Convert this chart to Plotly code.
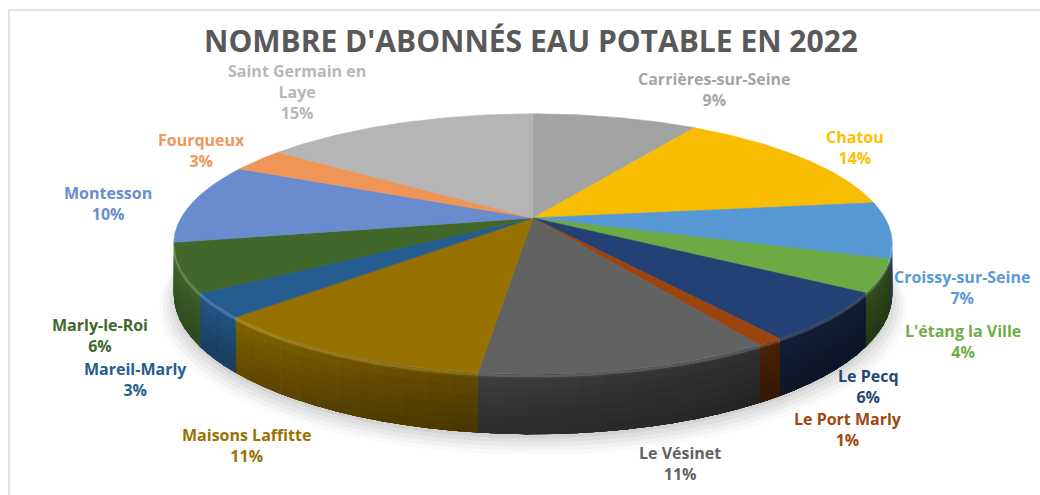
import math
import numpy as np
import plotly.graph_objects as go

# ---------------- data ----------------
communes = ["Carrières-sur-Seine", "Chatou", "Croissy-sur-Seine", "L'étang la Ville",
            "Le Pecq", "Le Port Marly", "Le Vésinet", "Maisons Laffitte", "Mareil-Marly",
            "Marly-le-Roi", "Montesson", "Fourqueux", "Saint Germain en Laye"]
label_names = ["Carrières-sur-Seine", "Chatou", "Croissy-sur-Seine", "L'étang la Ville",
               "Le Pecq", "Le Port Marly", "Le Vésinet", "Maisons Laffitte", "Mareil-Marly",
               "Marly-le-Roi", "Montesson", "Fourqueux", "Saint Germain en<br>Laye"]
abonnes_pct = [9, 14, 7, 4, 6, 1, 11, 11, 3, 6, 10, 3, 15]

# ---------------- style ----------------
slice_colors = ["#A3A3A3", "#F8BC00", "#5698D3", "#6CAA44", "#244175", "#9B450D", "#626262",
                "#977200", "#255D90", "#42672A", "#698CCF", "#EF9558", "#B5B5B5"]
label_colors = ["#A5A5A5", "#FFC000", "#5B9BD5", "#70AD47", "#264478", "#9E480E", "#636363",
                "#997300", "#255E91", "#43682B", "#698ED0", "#F1975A", "#B7B7B7"]
# label anchor positions (layout, pixels)
label_xy = [(714, 89), (855, 147), (962, 287), (963, 341), (868, 386), (848, 429),
            (680, 463), (246, 445), (135, 379), (100, 335), (108, 203), (201, 150), (297, 92)]

W, H = 1040, 495
CX, CY = 533, 218        # apex of the pie
A, B = 352, 125          # semi axes
K = 0.2                  # perspective strength
D = 48                   # thickness
FONT = "Open Sans"

def proj(theta_deg, depth=0.0):
    t = np.radians(theta_deg)
    X = np.sin(t)
    Y = -np.cos(t)
    f = 1.0 / (1.0 - K * Y)
    return CX + A * X * f, CY + B * Y * f + depth * f

def hex2rgb(h):
    h = h.lstrip("#")
    return tuple(int(h[i:i + 2], 16) for i in (0, 2, 4))

def shade(h, k):
    r, g, b = hex2rgb(h)
    return "rgb(%d,%d,%d)" % tuple(max(0, min(255, round(c * k))) for c in (r, g, b))

TH1 = math.degrees(math.acos(-K))       # visible side range
TH2 = 360 - TH1
shade_pts = [TH1, 140, 180, 200, 235, TH2]
shade_val = [0.40, 0.42, 0.55, 0.65, 0.85, 0.93]

fig = go.Figure()

# ---------------- soft shadow ----------------
th_all = np.linspace(0, 360, 361)
for (s, dy, op) in [(1.04, 12, 0.02), (1.03, 10, 0.03), (1.02, 8, 0.035), (1.01, 6, 0.04), (1.0, 4, 0.05)]:
    xs, ys = proj(th_all, D)
    xs = CX + (xs - CX) * s
    ys = CY + (ys - CY) * s + dy
    fig.add_trace(go.Scatter(x=xs, y=ys, mode="lines", fill="toself",
                             fillcolor="rgba(0,0,0,%.3f)" % op, line=dict(width=0),
                             hoverinfo="skip", showlegend=False))

total = sum(abonnes_pct)
starts = []
acc = 0.0
for v in abonnes_pct:
    starts.append(acc / total * 360)
    acc += v
ends = [starts[i + 1] if i + 1 < len(starts) else 360.0 for i in range(len(starts))]

# ---------------- sides (layered gradient) ----------------
band_edges = [0.0, 0.08, 0.22, 0.38, 0.54, 0.70, 0.85]
band_k = [1.2, 1.06, 1.0, 0.95, 0.9, 0.86, 0.82]
for i in range(len(abonnes_pct)):
    a0, a1 = max(starts[i], TH1), min(ends[i], TH2)
    if a1 <= a0:
        continue
    n = max(1, int(math.ceil((a1 - a0) / 3.5)))
    edges = np.linspace(a0, a1, n + 1)
    for j in range(n):
        s0, s1 = edges[j], min(a1, edges[j + 1] + 0.5)
        mid = 0.5 * (edges[j] + edges[j + 1])
        kf = float(np.interp(mid, shade_pts, shade_val))
        arc = np.linspace(s0, s1, 6)
        for b in range(len(band_k)):
            # each layer spans from its top down to the bottom; later layers cover lower parts
            xt, yt = proj(arc, D * band_edges[b])
            xb, yb = proj(arc[::-1], D)
            col = shade(slice_colors[i], kf * band_k[b])
            fig.add_trace(go.Scatter(x=np.concatenate([xt, xb]), y=np.concatenate([yt, yb]),
                                     mode="lines", fill="toself", fillcolor=col,
                                     line=dict(width=0),
                                     hoverinfo="skip", showlegend=False))

# ---------------- top faces ----------------
for i, name in enumerate(communes):
    arc = np.linspace(starts[i], ends[i], max(4, int((ends[i] - starts[i]) * 2)))
    xa, ya = proj(arc)
    xs = np.concatenate([[CX], xa, [CX]])
    ys = np.concatenate([[CY], ya, [CY]])
    pct = round(abonnes_pct[i] / total * 100)
    fig.add_trace(go.Scatter(x=xs, y=ys, mode="lines", fill="toself",
                             fillcolor=slice_colors[i],
                             line=dict(color=slice_colors[i], width=0.6),
                             name=name, hoverinfo="text",
                             text="%s : %d%%" % (name, pct), showlegend=False))

# rim highlight
arc = np.linspace(TH1, TH2, 200)
xr, yr = proj(arc, 1.5)
fig.add_trace(go.Scatter(x=xr, y=yr, mode="lines", line=dict(color="rgba(255,255,255,0.16)", width=2.5),
                         hoverinfo="skip", showlegend=False))

# ---------------- labels ----------------
for i, name in enumerate(label_names):
    pct = round(abonnes_pct[i] / total * 100)
    lx, ly = label_xy[i]
    fig.add_annotation(x=lx, y=ly, xref="x", yref="y", text="<b>%s<br>%d%%</b>" % (name, pct),
                       showarrow=False, align="center", xanchor="center", yanchor="middle",
                       borderpad=0,
                       font=dict(family=FONT, size=16, color=label_colors[i]))

# chart border
fig.add_shape(type="rect", x0=9, y0=10, x1=1060, y1=520, xref="x", yref="y",
              line=dict(color="#D9D9D9", width=1.5), fillcolor="rgba(0,0,0,0)", layer="below")

fig.update_layout(
    width=W, height=H,
    margin=dict(l=0, r=0, t=0, b=0),
    paper_bgcolor="white", plot_bgcolor="white",
    title=dict(text="<b>NOMBRE D'ABONNÉS EAU POTABLE EN 2022</b>", x=531 / W, xanchor="center",
               y=1 - 41 / H, yanchor="middle", yref="container",
               font=dict(family=FONT, size=30, color="#595959")),
    xaxis=dict(range=[0, W], visible=False, fixedrange=True),
    yaxis=dict(range=[H, 0], visible=False, fixedrange=True),
    showlegend=False,
)

fig.write_html("out.html", config={"displayModeBar": False},
               post_script="document.body.style.margin='0';document.body.style.overflow='hidden';")
